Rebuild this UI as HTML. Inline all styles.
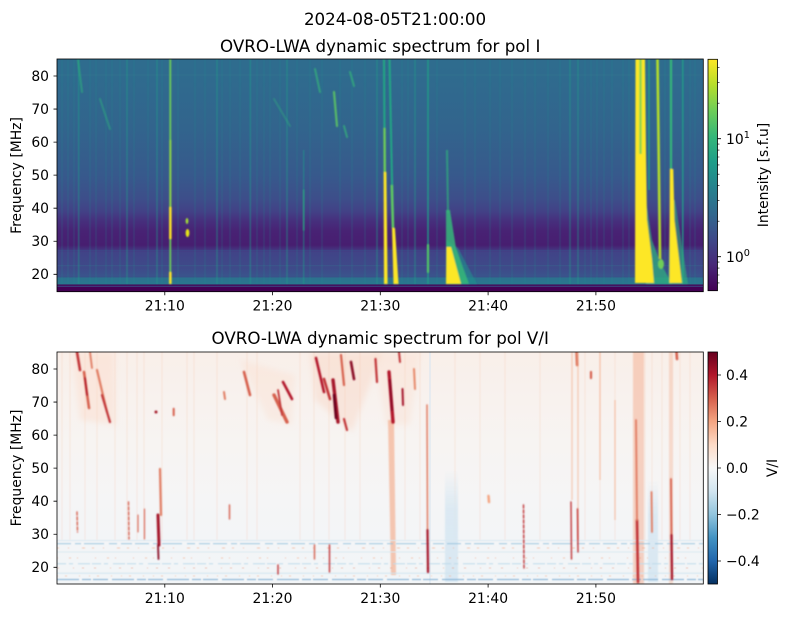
<!DOCTYPE html>
<html><head><meta charset="utf-8">
<style>
html,body{margin:0;padding:0;background:#fff;}
svg{display:block;}
text{font-family:"DejaVu Sans","Liberation Sans",sans-serif;fill:#000;}
</style></head><body>
<svg width="790" height="617" viewBox="0 0 790 617" xmlns="http://www.w3.org/2000/svg">
<defs>
 <linearGradient id="bgT" x1="0" y1="0" x2="0" y2="1">
  <stop offset="0" stop-color="#2f6c8e"/>
  <stop offset="0.07" stop-color="#2f6b8e"/>
  <stop offset="0.3" stop-color="#32648d"/>
  <stop offset="0.5" stop-color="#37598c"/>
  <stop offset="0.6" stop-color="#3d4e8a"/>
  <stop offset="0.655" stop-color="#424186"/>
  <stop offset="0.69" stop-color="#46317e"/>
  <stop offset="0.74" stop-color="#482274"/>
  <stop offset="0.80" stop-color="#471e70"/>
  <stop offset="0.815" stop-color="#452f7c"/>
  <stop offset="0.83" stop-color="#414387"/>
  <stop offset="0.9" stop-color="#3e4a89"/>
  <stop offset="0.935" stop-color="#3a548c"/>
  <stop offset="0.94" stop-color="#2c718e"/>
  <stop offset="0.968" stop-color="#2a768e"/>
  <stop offset="0.970" stop-color="#440154"/>
  <stop offset="1" stop-color="#440154"/>
 </linearGradient>
 <linearGradient id="bgB" x1="0" y1="0" x2="0" y2="1">
  <stop offset="0" stop-color="#f9efe9"/>
  <stop offset="0.15" stop-color="#f8f1ed"/>
  <stop offset="0.4" stop-color="#f7f4f2"/>
  <stop offset="0.65" stop-color="#f5f5f6"/>
  <stop offset="0.8" stop-color="#f3f5f7"/>
  <stop offset="1" stop-color="#f2f5f7"/>
 </linearGradient>
 <linearGradient id="blueCol" x1="0" y1="0" x2="0" y2="1">
  <stop offset="0" stop-color="#d5e6f1" stop-opacity="0"/>
  <stop offset="0.35" stop-color="#d5e6f1" stop-opacity=".8"/>
  <stop offset="1" stop-color="#d5e6f1" stop-opacity=".9"/>
 </linearGradient>
 <linearGradient id="vir" x1="0" y1="1" x2="0" y2="0">
  <stop offset="0" stop-color="#440154"/>
  <stop offset="0.111" stop-color="#482878"/>
  <stop offset="0.222" stop-color="#3e4989"/>
  <stop offset="0.333" stop-color="#31688e"/>
  <stop offset="0.444" stop-color="#26828e"/>
  <stop offset="0.556" stop-color="#1f9e89"/>
  <stop offset="0.667" stop-color="#35b779"/>
  <stop offset="0.778" stop-color="#6ece58"/>
  <stop offset="0.889" stop-color="#b5de2b"/>
  <stop offset="1" stop-color="#fde725"/>
 </linearGradient>
 <linearGradient id="rdbu" x1="0" y1="0" x2="0" y2="1">
  <stop offset="0" stop-color="#67001f"/>
  <stop offset="0.1" stop-color="#b2182b"/>
  <stop offset="0.2" stop-color="#d6604d"/>
  <stop offset="0.3" stop-color="#f4a582"/>
  <stop offset="0.4" stop-color="#fddbc7"/>
  <stop offset="0.5" stop-color="#f7f7f7"/>
  <stop offset="0.6" stop-color="#d1e5f0"/>
  <stop offset="0.7" stop-color="#92c5de"/>
  <stop offset="0.8" stop-color="#4393c3"/>
  <stop offset="0.9" stop-color="#2166ac"/>
  <stop offset="1" stop-color="#053061"/>
 </linearGradient>
 <clipPath id="cT"><rect x="57" y="59" width="646.3" height="232.7"/></clipPath>
 <clipPath id="cB"><rect x="57" y="352" width="646.3" height="232"/></clipPath>
 <filter id="bl0" x="-5%" y="-5%" width="110%" height="110%"><feGaussianBlur stdDeviation="0.5"/></filter>
 <filter id="bl" x="-20%" y="-10%" width="140%" height="120%"><feGaussianBlur stdDeviation="0.9"/></filter>
 <filter id="bl2" x="-20%" y="-20%" width="140%" height="140%"><feGaussianBlur stdDeviation="3"/></filter>
</defs>

<!-- Titles -->
<text x="395" y="25" font-size="16.7" text-anchor="middle">2024-08-05T21:00:00</text>
<text x="380.2" y="52" font-size="16.7" text-anchor="middle">OVRO-LWA dynamic spectrum for pol I</text>
<text x="380.2" y="344" font-size="16.7" text-anchor="middle">OVRO-LWA dynamic spectrum for pol V/I</text>

<!-- ============ TOP PANEL ============ -->
<g clip-path="url(#cT)">
 <rect x="57" y="59" width="646.3" height="232.7" fill="url(#bgT)"/>
 <!-- horizontal stripes -->
 <path d="M57 75H704" stroke="#3a7a8e" stroke-width="1" opacity=".35"/>
 <path d="M57 250.5H704" stroke="#3e4a89" stroke-width="1" opacity=".6"/>
 <path d="M57 265.7H704" stroke="#3b5a8c" stroke-width="1.2" opacity=".8"/>
 <path d="M57 277H704" stroke="#3a4e88" stroke-width="1" opacity=".6"/>
 <path d="M57 286.3H704" stroke="#3b528b" stroke-width="1" opacity=".9"/>
 <!-- faint vertical lines -->
 <g filter="url(#bl0)">
 <path d="M62 59V284M68 59V284M74 59V284M90 59V284M96 59V284M106 59V284M112 59V284M120 59V284M134 59V284M148 59V284M162 59V284M178 59V284M195 59V284M205 59V284M222 59V284M230 59V284M240 59V284M257 59V284M264 59V284M270 59V284M280 59V284M297 59V284M310 59V284M322 59V284M340 59V284M352 59V284M365 59V284M402 59V284M408 59V284M437 59V284M465 59V284M475 59V284M490 59V284M500 59V284M512 59V284M525 59V284M535 59V284M548 59V284M560 59V284M585 59V284M591 59V284M597 59V284M604 59V284M612 59V284M623 59V284M629 59V284M665 59V284M690 59V284M695 59V284" stroke="#21918c" stroke-width="1.2" opacity=".26"/>
 <path d="M78.7 59V284M127 59V284M157 59V284M217 59V284M250.3 59V284M287 59V284M303.7 150V284M377 59V284M415 59V284M570 59V284M578 59V284" stroke="#1f9e89" stroke-width="1.5" opacity=".45"/>
 <path d="M428 59V284M682.8 59V284M649 59V190" stroke="#1f9e89" stroke-width="1.8" opacity=".75"/>
 </g>
 <!-- drifting top features -->
 <g filter="url(#bl)" stroke-linecap="round">
  <path d="M78 60L82 92" stroke="#2db27d" stroke-width="2" opacity=".6"/>
  <path d="M100 99L110 129" stroke="#2db27d" stroke-width="2" opacity=".5"/>
  <path d="M274 99L290 126" stroke="#2db27d" stroke-width="2" opacity=".4"/>
  <path d="M315 69L320 92" stroke="#35b779" stroke-width="2" opacity=".7"/>
  <path d="M334 92L337 126" stroke="#5ec962" stroke-width="2.2" opacity=".85"/>
  <path d="M344 126L347 137" stroke="#35b779" stroke-width="2" opacity=".7"/>
  <path d="M350 72L354 86" stroke="#35b779" stroke-width="2" opacity=".7"/>
  <path d="M428 245V272" stroke="#5ec962" stroke-width="2" opacity=".9"/>
  <path d="M303.7 190V230" stroke="#2db27d" stroke-width="1.5" opacity=".6"/>
 </g>
 <!-- bright bursts -->
 <g filter="url(#bl)">
  <!-- A -->
  <path d="M170.3 59V284" stroke="#6ece58" stroke-width="1.8"/>
  <rect x="169.4" y="140" width="1.9" height="67" fill="#8fd744"/>
  <rect x="169.1" y="207" width="2.5" height="32" fill="#fde725"/>
  <rect x="169.1" y="272" width="2.5" height="12" fill="#fde725"/>
  <ellipse cx="187" cy="221" rx="1.4" ry="3" fill="#a0da39"/>
  <ellipse cx="187.5" cy="233" rx="1.9" ry="4" fill="#e5e419"/>
  <!-- B -->
  <path d="M384 59L384.8 172" stroke="#22a884" stroke-width="2"/>
  <path d="M384.5 128L384.8 172" stroke="#6ece58" stroke-width="2.3"/>
  <polygon points="383.6,172 386.4,172 387.6,284 384,284" fill="#fde725"/>
  <!-- C -->
  <path d="M389.5 59L393 228" stroke="#22a884" stroke-width="2"/>
  <path d="M391.8 185L393 228" stroke="#5ec962" stroke-width="2.6"/>
  <polygon points="392,228 395,228 398.5,284 393.5,284" fill="#fde725"/>
  <!-- D -->
  <path d="M447 150L448 213" stroke="#2db27d" stroke-width="2" opacity=".7"/>
  <polygon points="446,240 458,248 477,284 446,284" fill="#21918c" opacity=".6"/>
  <polygon points="446,210 450,210 456,248 469,284 446,284" fill="#35b779" opacity=".85"/>
  <polygon points="446.5,247 451,247 461,284 446,284" fill="#fde725"/>
  <!-- E -->
  <polygon points="646,200 652,240 660,262 672,284 646,284" fill="#2db27d" opacity=".7"/>
  <polygon points="635.5,59 645,59 646,152 647,219 652,259 654,283 635,283" fill="#fde725"/>
  <rect x="639.3" y="59" width="2.4" height="95" fill="#6ece58" opacity=".8"/>
  <path d="M657.5 59L660 259" stroke="#b5de2b" stroke-width="2.6"/>
  <ellipse cx="661" cy="264" rx="3" ry="5" fill="#6ece58"/>
  <!-- F -->
  <polygon points="670,200 675,200 688,284 668,284" fill="#2db27d" opacity=".6"/>
  <path d="M671 59V169" stroke="#35b779" stroke-width="2.2"/>
  <polygon points="669.8,169 673.3,169 674.5,220 682,283 669.5,283" fill="#fde725"/>
 </g>
</g>
<rect x="57" y="59" width="646.3" height="232.7" fill="none" stroke="#000" stroke-width="0.8"/>

<!-- top y ticks -->
<path d="M53.5 76H57M53.5 109.05H57M53.5 142.1H57M53.5 175.15H57M53.5 208.2H57M53.5 241.25H57M53.5 274.3H57" stroke="#000" stroke-width="0.8"/>
<g font-size="13.9" text-anchor="end">
 <text x="49" y="81">80</text>
 <text x="49" y="114">70</text>
 <text x="49" y="147">60</text>
 <text x="49" y="180">50</text>
 <text x="49" y="213">40</text>
 <text x="49" y="246">30</text>
 <text x="49" y="279">20</text>
</g>
<!-- top x ticks -->
<path d="M164.8 291.7V295.2M272.5 291.7V295.2M380.3 291.7V295.2M488.1 291.7V295.2M595.9 291.7V295.2" stroke="#000" stroke-width="0.8"/>
<g font-size="13.9" text-anchor="middle">
 <text x="164.8" y="310.7">21:10</text>
 <text x="272.5" y="310.7">21:20</text>
 <text x="380.3" y="310.7">21:30</text>
 <text x="488.1" y="310.7">21:40</text>
 <text x="595.9" y="310.7">21:50</text>
</g>
<text transform="translate(21,175.5) rotate(-90)" font-size="13.9" text-anchor="middle">Frequency [MHz]</text>

<!-- top colorbar -->
<rect x="708" y="59.3" width="9.5" height="231.4" fill="url(#vir)" stroke="#000" stroke-width="0.8"/>
<path d="M717.5 138.7H721M717.5 256.7H721" stroke="#000" stroke-width="0.8"/>
<path d="M717.5 282.9H719.5M717.5 275H719.5M717.5 268.1H719.5M717.5 262.1H719.5M717.5 221.2H719.5M717.5 200.4H719.5M717.5 185.65H719.5M717.5 174.2H719.5M717.5 164.9H719.5M717.5 157H719.5M717.5 150.1H719.5M717.5 144.1H719.5M717.5 103.2H719.5M717.5 82.4H719.5M717.5 67.65H719.5" stroke="#000" stroke-width="0.6"/>
<text x="726" y="144" font-size="13.9">10<tspan font-size="9.7" dy="-6">1</tspan></text>
<text x="726" y="262" font-size="13.9">10<tspan font-size="9.7" dy="-6">0</tspan></text>
<text transform="translate(768,175) rotate(-90)" font-size="13.9" text-anchor="middle">Intensity [s.f.u]</text>

<!-- ============ BOTTOM PANEL ============ -->
<g clip-path="url(#cB)">
 <rect x="57" y="352" width="646.3" height="232" fill="url(#bgB)"/>
 <!-- faint red verticals -->
 <g filter="url(#bl0)">
 <path d="M62 352V540M70 352V540M85 352V540M97 352V540M115 352V540M127 352V540M137 352V540M144 352V540M162 352V540M187 352V540M194 352V540M217 352V540M247 352V540M257 352V540M300 352V540M314 352V540M329 352V540M345 352V540M360 352V540M405 352V540M420 352V540M455 352V540M480 352V540M505 352V540M540 352V540M585 352V540M600 352V540M615 352V540M645 352V540M652 352V540M662 352V540M680 352V540M690 352V540" stroke="#f4a582" stroke-width="1" opacity=".18"/>
 <path d="M578 352V540M572 352V500M600 352V480M615 400V520" stroke="#f4a582" stroke-width="2" opacity=".35"/>
 </g>
 <!-- pink haze -->
 <g filter="url(#bl2)">
  <polygon points="72,352 114,352 116,425 80,420" fill="#fbd3bf" opacity=".35"/>
  <polygon points="240,360 295,375 292,425 268,420" fill="#fbd3bf" opacity=".25"/>
  <polygon points="310,352 382,352 352,432 315,400" fill="#f9c7ae" opacity=".3"/>
  <polygon points="374,352 420,352 410,425 386,425" fill="#fbd3bf" opacity=".25"/>
 </g>
 <g filter="url(#bl)">
  <rect x="633" y="352" width="11" height="232" fill="#f4a582" opacity=".45"/>
  <rect x="669" y="352" width="4" height="232" fill="#f4a582" opacity=".35"/>
  <polygon points="388,420 394,420 396,575 391,575" fill="#f4a582" opacity=".6"/>
  <!-- blue regions -->
  <rect x="445" y="470" width="13" height="112" fill="url(#blueCol)"/>
  <rect x="648" y="480" width="10" height="102" fill="url(#blueCol)"/>
 </g>
 <path d="M430 352V584" stroke="#dbe8f1" stroke-width="1.5" opacity=".8"/>
 <!-- lower horizontal stripes -->
 <g filter="url(#bl0)">
 <path d="M57 540.5H704" stroke="#dce9f2" stroke-width="1"/>
 <path d="M57 543.7H704" stroke="#8fbedb" stroke-width="1.2" stroke-dasharray="14,4,6,3,20,5,8,4,11,3" opacity=".7"/>
 <path d="M57 552H704" stroke="#dce9f2" stroke-width="1"/>
 <path d="M57 563.7H704" stroke="#c0dbeb" stroke-width="1" stroke-dasharray="9,3,4,5,12,2"/>
 <path d="M57 573.3H704" stroke="#d1e5f0" stroke-width="1"/>
 <path d="M57 579.5H704" stroke="#7fb0d5" stroke-width="1.2" stroke-dasharray="22,3,9,2,15,4" opacity=".8"/>
 <path d="M57 548H704" stroke="#f4a582" stroke-width="1" stroke-dasharray="2,9,1,13,3,7" opacity=".55"/>
 <path d="M57 558H704" stroke="#f4a582" stroke-width="1" stroke-dasharray="1,11,2,6,1,17" opacity=".55"/>
 <path d="M57 568H704" stroke="#e6896b" stroke-width="1" stroke-dasharray="2,14,1,8,2,10" opacity=".45"/>
 <path d="M57 576H704" stroke="#f4a582" stroke-width="1" stroke-dasharray="1,7,2,12,1,9" opacity=".5"/>
 </g>
 <!-- red features -->
 <g filter="url(#bl)" stroke-linecap="round" fill="none">
  <!-- top-left cluster -->
  <path d="M77 352L80 370" stroke="#c13639" stroke-width="2.6"/>
  <path d="M84 372L89 408" stroke="#d6604d" stroke-width="2.6"/>
  <path d="M85 378L87 395" stroke="#b2182b" stroke-width="1.8"/>
  <path d="M97 370L107 412" stroke="#e07b62" stroke-width="2.2"/>
  <path d="M102 395L110 422" stroke="#c13639" stroke-width="2.2"/>
  <path d="M90 352L92 368" stroke="#e07b62" stroke-width="1.8"/>
  <!-- middle cluster -->
  <path d="M244 372L250 395" stroke="#d6604d" stroke-width="2.6"/>
  <path d="M274 395L287 422" stroke="#d6604d" stroke-width="3.4"/>
  <path d="M283 382L292 399" stroke="#b2182b" stroke-width="2.6"/>
  <path d="M278 390L282 415" stroke="#c13639" stroke-width="1.8"/>
  <path d="M224 392L225 399" stroke="#e07b62" stroke-width="2"/>
  <!-- right cluster -->
  <path d="M316 358L324 392" stroke="#b2182b" stroke-width="2.6"/>
  <path d="M324 379L330 399" stroke="#c13639" stroke-width="2.6"/>
  <path d="M333 380L338 422" stroke="#a51429" stroke-width="3.4"/>
  <path d="M334 395L336 418" stroke="#67001f" stroke-width="2.6"/>
  <path d="M344 419L347 430" stroke="#c13639" stroke-width="2.2"/>
  <path d="M351 362L354 379" stroke="#8a0b25" stroke-width="2.6"/>
  <path d="M341 355L344 385" stroke="#d6604d" stroke-width="2.2"/>
  <path d="M375.5 359L377 382" stroke="#c13639" stroke-width="2.2"/>
  <!-- right half -->
  <path d="M389 372L393 422" stroke="#b2182b" stroke-width="3.4"/>
  <path d="M390 380L392 410" stroke="#8a0b25" stroke-width="2"/>
  <path d="M399 352L400 362" stroke="#c13639" stroke-width="2"/>
  <path d="M402.5 389L403 405" stroke="#a51429" stroke-width="2"/>
  <path d="M414 369L415 389" stroke="#e6896b" stroke-width="2"/>
  <path d="M427 405L427.5 530" stroke="#e07b62" stroke-width="1.5"/>
  <path d="M427.5 530L428 572" stroke="#a51429" stroke-width="2.2"/>
  <path d="M523.5 505L524 568" stroke="#c13639" stroke-width="1.4" stroke-dasharray="3,2"/>
  <path d="M571 502L571.5 559" stroke="#c13639" stroke-width="1.4"/>
  <path d="M577.5 509L578 552" stroke="#c13639" stroke-width="1.4"/>
  <path d="M576.5 352L577 365" stroke="#e07b62" stroke-width="2.6"/>
  <path d="M591 372L591 378" stroke="#d6604d" stroke-width="2.2"/>
  <path d="M637 520L638 582" stroke="#c13639" stroke-width="2.6"/>
  <path d="M636 420L637 520" stroke="#e07b62" stroke-width="1.8"/>
  <path d="M671 479L671.5 535" stroke="#d6604d" stroke-width="1.8"/>
  <path d="M671.5 535L672 579" stroke="#a51429" stroke-width="2.2"/>
  <path d="M676.5 352L677 359" stroke="#d6604d" stroke-width="2.6"/>
  <path d="M651.5 492L652 532" stroke="#e07b62" stroke-width="1.8"/>
  <path d="M488.5 496L489 502" stroke="#f4a582" stroke-width="2.5"/>
  <!-- lower left -->
  <path d="M160 469L161 515" stroke="#e07b62" stroke-width="2.2"/>
  <path d="M158 515L159 545" stroke="#a51429" stroke-width="3"/>
  <path d="M158 545L158.5 559" stroke="#8a0b25" stroke-width="1.8"/>
  <path d="M128.5 502L129 539" stroke="#d6604d" stroke-width="1.4" stroke-dasharray="3,2"/>
  <path d="M77 512L77.5 532" stroke="#d6604d" stroke-width="1.4" stroke-dasharray="3,2"/>
  <path d="M138 515V532M144.5 509V539" stroke="#d6604d" stroke-width="1.1"/>
  <path d="M229.5 505V519M314.5 545V559" stroke="#d6604d" stroke-width="1.4"/>
  <path d="M329.5 545V572M278 565V574" stroke="#c13639" stroke-width="1.4"/>
  <path d="M173.7 408.7V415.3" stroke="#d6604d" stroke-width="2"/>
  <circle cx="156" cy="412" r="1.5" fill="#a51429" stroke="none"/>
 </g>
</g>
<rect x="57" y="352" width="646.3" height="232" fill="none" stroke="#000" stroke-width="0.8"/>

<!-- bottom y ticks -->
<path d="M53.5 369H57M53.5 402.05H57M53.5 435.1H57M53.5 468.15H57M53.5 501.2H57M53.5 534.25H57M53.5 567.3H57" stroke="#000" stroke-width="0.8"/>
<g font-size="13.9" text-anchor="end">
 <text x="49" y="374">80</text>
 <text x="49" y="407">70</text>
 <text x="49" y="440">60</text>
 <text x="49" y="473">50</text>
 <text x="49" y="506">40</text>
 <text x="49" y="539">30</text>
 <text x="49" y="572">20</text>
</g>
<!-- bottom x ticks -->
<path d="M164.8 584V587.5M272.5 584V587.5M380.3 584V587.5M488.1 584V587.5M595.9 584V587.5" stroke="#000" stroke-width="0.8"/>
<g font-size="13.9" text-anchor="middle">
 <text x="164.8" y="603">21:10</text>
 <text x="272.5" y="603">21:20</text>
 <text x="380.3" y="603">21:30</text>
 <text x="488.1" y="603">21:40</text>
 <text x="595.9" y="603">21:50</text>
</g>
<text transform="translate(21,468) rotate(-90)" font-size="13.9" text-anchor="middle">Frequency [MHz]</text>

<!-- bottom colorbar -->
<rect x="708" y="352" width="9.5" height="232" fill="url(#rdbu)" stroke="#000" stroke-width="0.8"/>
<path d="M717.5 375H721M717.5 421.5H721M717.5 468H721M717.5 514.5H721M717.5 561H721" stroke="#000" stroke-width="0.8"/>
<g font-size="13.9">
 <text x="726" y="380">0.4</text>
 <text x="726" y="426.5">0.2</text>
 <text x="726" y="473">0.0</text>
 <text x="726" y="519.5">−0.2</text>
 <text x="726" y="566">−0.4</text>
</g>
<text transform="translate(777,468) rotate(-90)" font-size="13.9" text-anchor="middle">V/I</text>
</svg>
</body></html>
